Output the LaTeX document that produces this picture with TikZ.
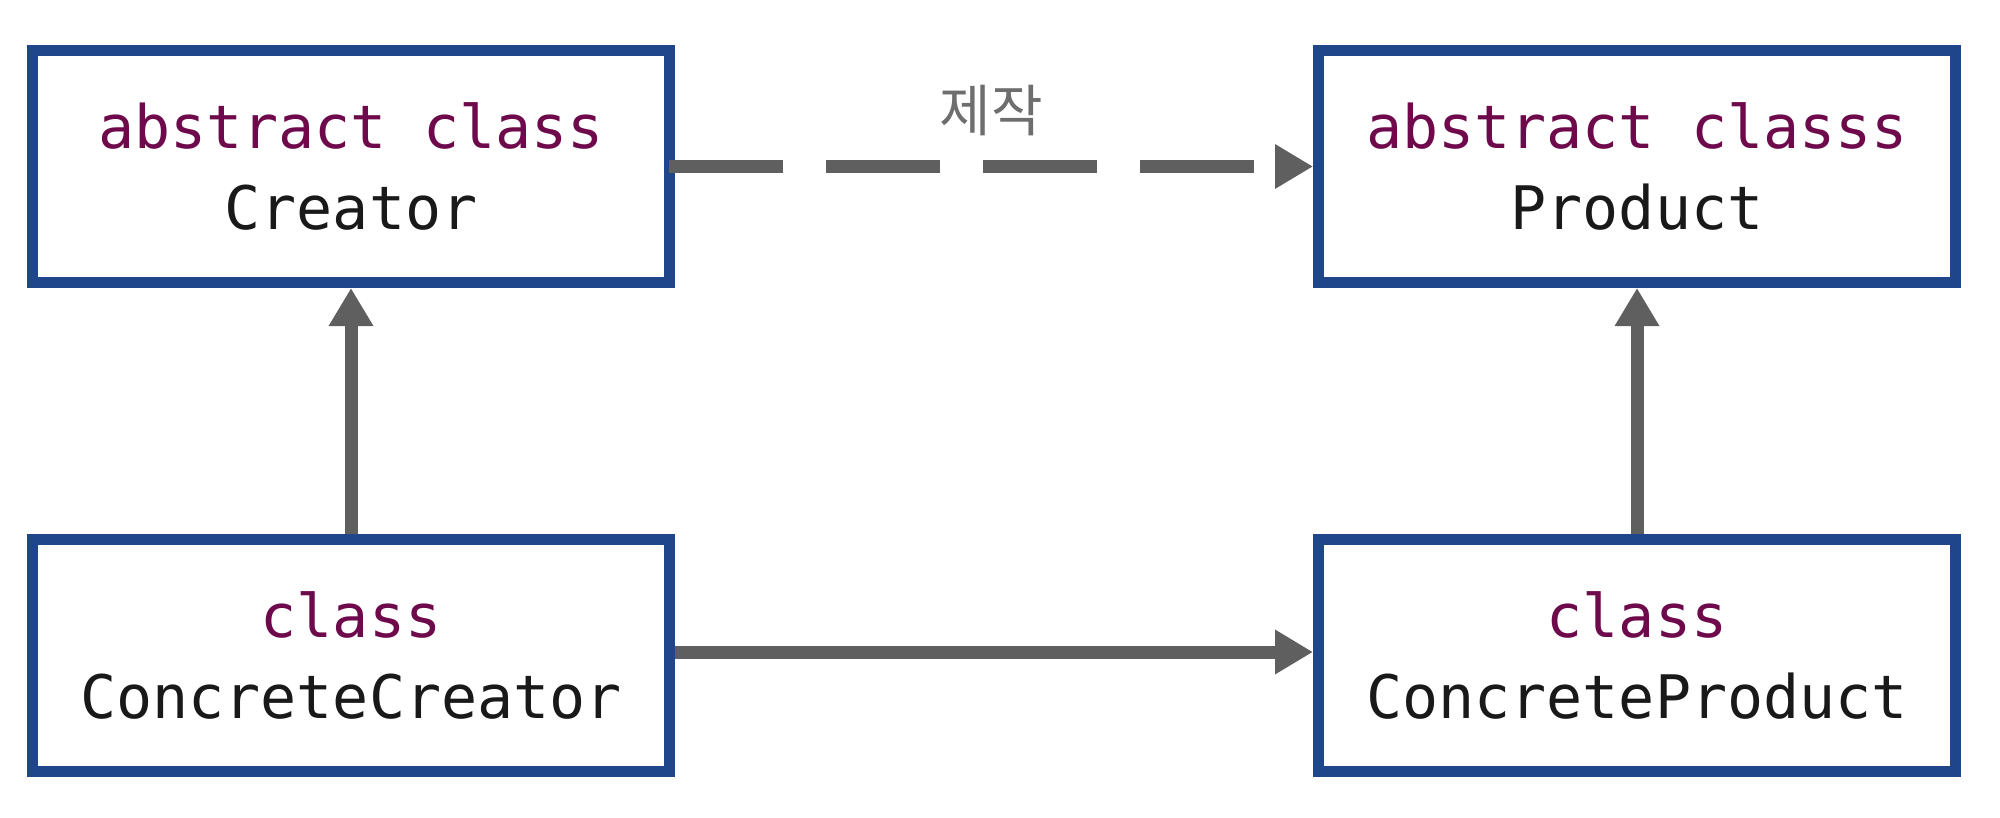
\documentclass[tikz,border=0pt]{standalone}
\usepackage{fontspec}
\setmonofont{DejaVu Sans Mono}
\newfontfamily\krfont{Noto Sans CJK KR}
\usetikzlibrary{arrows.meta}
\definecolor{boxblue}{RGB}{31,70,138}
\definecolor{kwcol}{RGB}{110,10,75}
\definecolor{txtcol}{RGB}{25,25,25}
\definecolor{arrgrey}{RGB}{95,95,95}
\definecolor{lblgrey}{RGB}{110,110,110}
\tikzset{
  classbox/.style={draw=boxblue, line width=11pt, fill=white, rectangle,
    minimum width=637pt, minimum height=232pt, inner sep=0pt, align=center,
    text=txtcol, font=\ttfamily\fontsize{60}{81}\selectfont},
  conn/.style={draw=arrgrey, line width=13pt,
    -{Triangle[length=38pt,width=42pt]}},
  dashconn/.style={conn, dash pattern=on 114pt off 43pt},
  lbl/.style={text=lblgrey, font=\krfont\fontsize{56}{66}\selectfont, inner sep=0pt}
}
\begin{document}
\begin{tikzpicture}[x=1pt,y=-1pt]
\useasboundingbox[fill=white] (0,0) rectangle (2000,817);
\node[classbox] (cre) at (351,166.5) {\textcolor{kwcol}{abstract class}\\Creator};
\node[classbox] (prod) at (1637,166.5) {\textcolor{kwcol}{abstract classs}\\Product};
\node[classbox] (ccre) at (351,655) {\textcolor{kwcol}{class}\\ConcreteCreator};
\node[classbox] (cprod) at (1637,655) {\textcolor{kwcol}{class}\\ConcreteProduct};
\draw[dashconn] ([xshift=-6pt]cre.east) -- (prod.west);
\node[lbl] (lab) at (991,111) {제작};
\draw[conn] (ccre.north) -- (cre.south);
\draw[conn] (cprod.north) -- (prod.south);
\draw[conn] ([yshift=3pt]ccre.east) -- ([yshift=3pt]cprod.west);
\end{tikzpicture}
\end{document}
